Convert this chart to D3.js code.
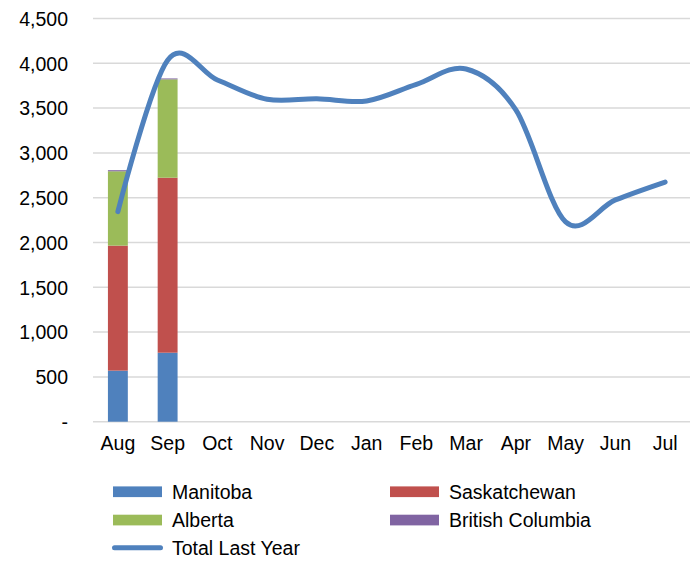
<!DOCTYPE html>
<html>
<head>
<meta charset="utf-8">
<script src="https://cdn.jsdelivr.net/npm/d3@7"></script>
<style>
  body { margin: 0; background: #fff; }
  text { font-family: "Liberation Sans", Arial, sans-serif; fill: #000; }
</style>
</head>
<body>
<div id="chart"></div>
<script>
const months = ["Aug", "Sep", "Oct", "Nov", "Dec", "Jan", "Feb", "Mar", "Apr", "May", "Jun", "Jul"];
const manitoba = [570, 770];
const saskatchewan = [1395, 1953];
const alberta = [830, 1098];
const britishColumbia = [12, 10];
const totalLastYear = [2344, 4035, 3814, 3598, 3605, 3580, 3765, 3936, 3479, 2230, 2475, 2675];
const yTicks = [0, 500, 1000, 1500, 2000, 2500, 3000, 3500, 4000, 4500];

const seriesNames = ["Manitoba", "Saskatchewan", "Alberta", "British Columbia"];
const seriesColors = ["#4f81bd", "#c0504d", "#9bbb59", "#8064a2"];
const lineColor = "#4f81bd";

const W = 698, H = 561;
const margin = {top: 18.5, right: 8, bottom: 139.3, left: 93};
const width = W - margin.left - margin.right;
const height = H - margin.top - margin.bottom;

const svg = d3.select("#chart")
    .append("svg")
    .attr("width", W)
    .attr("height", H);

svg.append("rect").attr("width", W).attr("height", H).attr("fill", "#fff");

const g = svg.append("g")
    .attr("transform", `translate(${margin.left},${margin.top})`);

const xScale = d3.scaleBand().domain(months).range([0, width]).paddingInner(0.6).paddingOuter(0.3);
const yScale = d3.scaleLinear().domain([0, 4500]).range([height, 0]);

// gridlines
g.append("g")
    .selectAll("line")
    .data(yTicks)
    .enter()
    .append("line")
    .attr("x1", 0)
    .attr("x2", width)
    .attr("y1", d => yScale(d))
    .attr("y2", d => yScale(d))
    .attr("stroke", "#d9d9d9")
    .attr("stroke-width", 1.5);

// y axis
const yAxis = g.append("g")
    .call(d3.axisLeft(yScale).tickValues(yTicks).tickSize(0).tickPadding(25)
        .tickFormat(d => d === 0 ? "-" : d3.format(",")(d)));
yAxis.select(".domain").remove();
yAxis.selectAll("text").style("font-size", "19.5px").attr("dy", "0.35em");

// x axis
const xAxis = g.append("g")
    .attr("transform", `translate(0,${height})`)
    .call(d3.axisBottom(xScale).tickSize(0).tickPadding(14));
xAxis.select(".domain").remove();
xAxis.selectAll("text").style("font-size", "19.5px");

// stacked bars
const rows = manitoba.map((m, i) => ({
    month: months[i],
    "Manitoba": m,
    "Saskatchewan": saskatchewan[i],
    "Alberta": alberta[i],
    "British Columbia": britishColumbia[i]
}));
const stacked = d3.stack().keys(seriesNames)(rows);

g.selectAll(".layer")
    .data(stacked)
    .enter()
    .append("g")
    .attr("fill", (d, i) => seriesColors[i])
    .selectAll("rect")
    .data(d => d)
    .enter()
    .append("rect")
    .attr("x", d => xScale(d.data.month))
    .attr("width", xScale.bandwidth())
    .attr("y", d => yScale(d[1]))
    .attr("height", d => yScale(d[0]) - yScale(d[1]));

// line
const lineGenerator = d3.line()
    .x((d, i) => xScale(months[i]) + xScale.bandwidth() / 2)
    .y(d => yScale(d))
    .curve(d3.curveCatmullRom.alpha(0));

g.append("path")
    .datum(totalLastYear)
    .attr("fill", "none")
    .attr("stroke", lineColor)
    .attr("stroke-width", 5)
    .attr("stroke-linecap", "round")
    .attr("stroke-linejoin", "round")
    .attr("d", lineGenerator);

// legend
const legendItems = [
    {name: "Manitoba", color: seriesColors[0], x: 113, y: 491.7, type: "rect"},
    {name: "Saskatchewan", color: seriesColors[1], x: 390, y: 491.7, type: "rect"},
    {name: "Alberta", color: seriesColors[2], x: 113, y: 520, type: "rect"},
    {name: "British Columbia", color: seriesColors[3], x: 390, y: 520, type: "rect"},
    {name: "Total Last Year", color: lineColor, x: 113, y: 547.7, type: "line"}
];

const legend = svg.append("g");
legendItems.forEach(item => {
    if (item.type === "rect") {
        legend.append("rect")
            .attr("x", item.x)
            .attr("y", item.y - 5.3)
            .attr("width", 49)
            .attr("height", 10.7)
            .attr("fill", item.color);
    } else {
        legend.append("line")
            .attr("x1", item.x + 1.5)
            .attr("x2", item.x + 47.5)
            .attr("y1", item.y)
            .attr("y2", item.y)
            .attr("stroke", item.color)
            .attr("stroke-width", 5)
            .attr("stroke-linecap", "round");
    }
    legend.append("text")
        .attr("x", item.x + 59)
        .attr("y", item.y)
        .attr("dy", "0.35em")
        .style("font-size", "19.5px")
        .text(item.name);
});
</script>
</body>
</html>
